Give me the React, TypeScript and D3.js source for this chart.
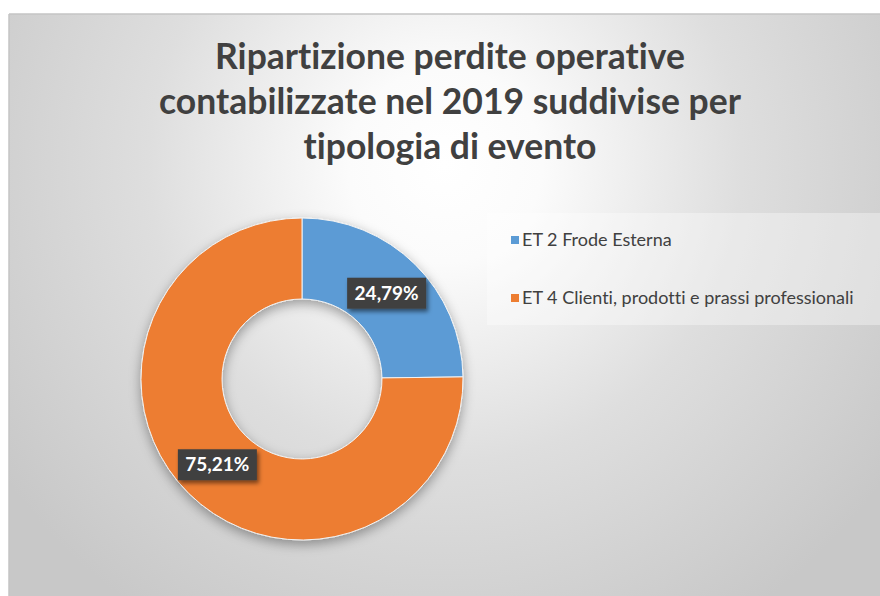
import React from "react";
import * as d3 from "d3";

// chart data
const categories = ["ET 2 Frode Esterna", "ET 4 Clienti, prodotti e prassi professionali"];
const values = [24.79, 75.21];
const valueLabels = ["24,79%", "75,21%"];
const colors = ["#5B9BD5", "#ED7D31"];
const titleLines = [
  "Ripartizione perdite operative",
  "contabilizzate nel 2019 suddivise per",
  "tipologia di evento",
];

const W = 880;
const H = 596;
const FONT = "Lato, 'Open Sans', sans-serif";
const noLig = { fontVariantLigatures: "none" as const, fontFeatureSettings: "'liga' 0, 'dlig' 0" };

export default function App() {
  const cx = 302;
  const cy = 379;
  const outerR = 161;
  const innerR = 80;

  const pie = d3
    .pie<number>()
    .sort(null)
    .value((d) => d);
  const arcs = pie(values);

  const arc = d3
    .arc<d3.PieArcDatum<number>>()
    .innerRadius(innerR)
    .outerRadius(outerR);

  // label sits at the middle of the ring
  const labelArc = d3
    .arc<d3.PieArcDatum<number>>()
    .innerRadius((innerR + outerR) / 2)
    .outerRadius((innerR + outerR) / 2);

  const legendY = d3.scalePoint<number>().domain([0, 1]).range([240, 298]);

  return (
    <svg
      width={W}
      height={H}
      style={{ position: "absolute", left: 0, top: 0 }}
    >
      <defs>
        <radialGradient
          id="bg"
          gradientUnits="userSpaceOnUse"
          cx={445}
          cy={165}
          r={540}
        >
          <stop offset="0" stopColor="#ffffff" />
          <stop offset="0.18" stopColor="#fbfbfb" />
          <stop offset="0.55" stopColor="#dedede" />
          <stop offset="1" stopColor="#c8c8c8" />
        </radialGradient>
        <filter id="ringShadow" x="-30%" y="-30%" width="160%" height="160%">
          <feDropShadow dx="0" dy="4" stdDeviation="6" floodColor="#000" floodOpacity="0.35" />
        </filter>
        <filter id="boxShadow" x="-30%" y="-30%" width="160%" height="170%">
          <feDropShadow dx="2" dy="3" stdDeviation="2" floodColor="#000" floodOpacity="0.5" />
        </filter>
      </defs>

      <rect x={0} y={0} width={W} height={H} fill="#ffffff" />
      <rect x={9} y={14} width={W - 9} height={H - 14} fill="url(#bg)" />
      <line x1={9} y1={14} x2={W} y2={14} stroke="#c4c4c4" strokeWidth={1.5} />
      <line x1={9} y1={14} x2={9} y2={H} stroke="#c4c4c4" strokeWidth={1.5} />

      {/* title */}
      <g
        fontFamily={FONT}
        fontWeight="bold"
        fill="#404040"
        textAnchor="middle"
        fontSize={35.5}
        style={noLig}
      >
        {titleLines.map((t, i) => (
          <text key={i} x={450} y={69 + i * 45}>
            {t}
          </text>
        ))}
      </g>

      {/* legend */}
      <rect x={487} y={213} width={W - 487} height={112} fill="#ffffff" opacity={0.35} />
      <g fontFamily={FONT} fontSize={18} fill="#404040" style={noLig}>
        {categories.map((c, i) => (
          <g key={c} transform={`translate(511,${legendY(i)})`}>
            <rect x={0} y={-4} width={8} height={8} fill={colors[i]} />
            <text x={11} y={6}>
              {c}
            </text>
          </g>
        ))}
      </g>

      {/* donut */}
      <g transform={`translate(${cx},${cy})`}>
        <g filter="url(#ringShadow)">
          {arcs.map((a, i) => (
            <path key={i} d={arc(a) || ""} fill={colors[i]} stroke="#f2f2f2" strokeWidth={1} />
          ))}
        </g>
        {arcs.map((a, i) => {
          const [lx, ly] = labelArc.centroid(a);
          return (
            <g key={"l" + i} transform={`translate(${lx},${ly})`}>
              <rect
                x={-39.5}
                y={-15.5}
                width={79}
                height={31}
                fill="#404040"
                filter="url(#boxShadow)"
              />
              <text
                textAnchor="middle"
                y={6.5}
                fontFamily={FONT}
                fontWeight="bold"
                fontSize={19}
                fill="#ffffff"
                style={noLig}
              >
                {valueLabels[i]}
              </text>
            </g>
          );
        })}
      </g>
    </svg>
  );
}
